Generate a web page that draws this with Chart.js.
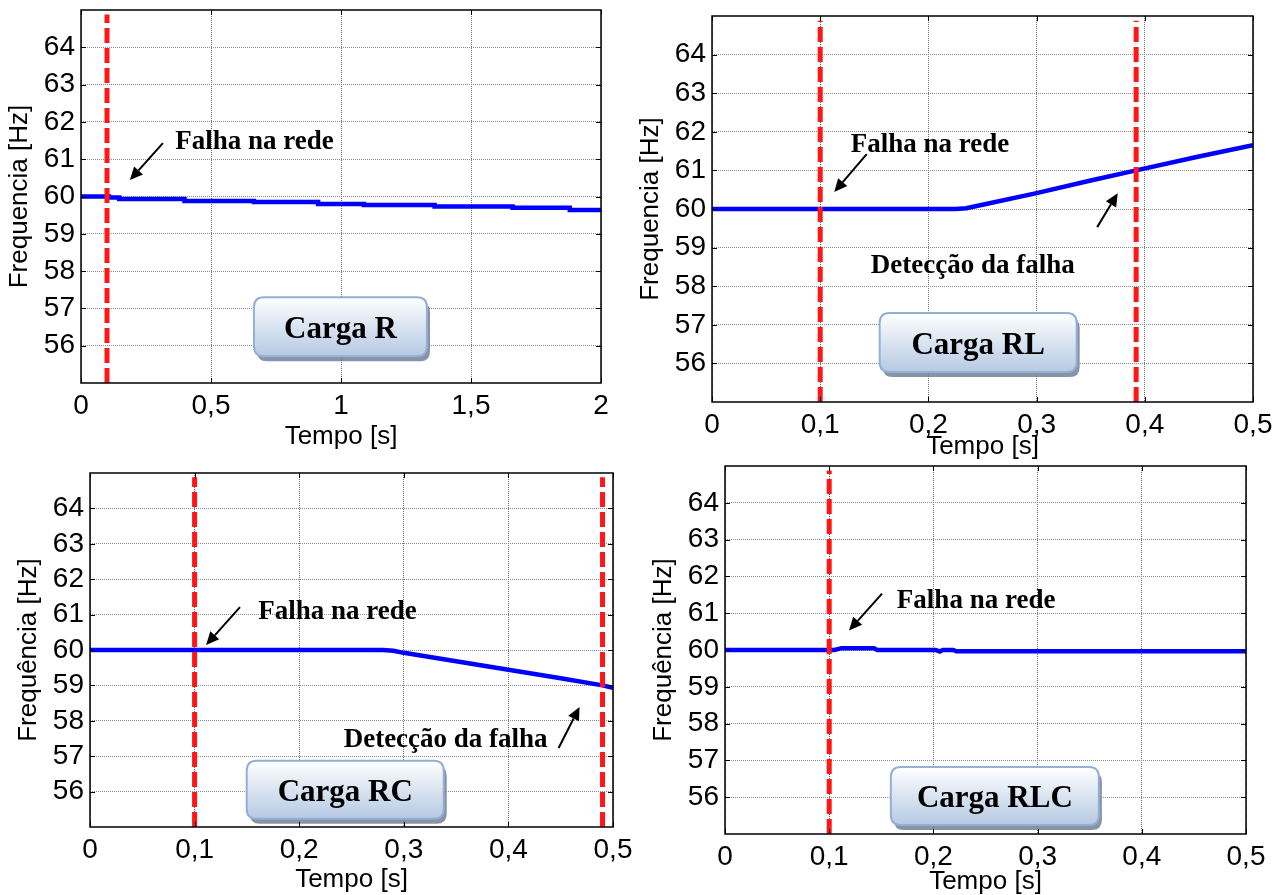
<!DOCTYPE html>
<html lang="pt">
<head>
<meta charset="UTF-8">
<title>Frequência - falha na rede</title>
<script src="https://cdn.jsdelivr.net/npm/chart.js"></script>
<style>
  html, body { margin: 0; padding: 0; background: #fff; }
  body { width: 1285px; height: 895px; position: relative; overflow: hidden; }
  canvas { position: absolute; }
</style>
</head>
<body>
<canvas id="cargaR"></canvas>
<canvas id="cargaRL"></canvas>
<canvas id="cargaRC"></canvas>
<canvas id="cargaRLC"></canvas>
<script>
// ── values ──
const yTicks = [56, 57, 58, 59, 60, 61, 62, 63, 64];
const xTicksLong = [0, 0.5, 1, 1.5, 2];
const xTicksShort = [0, 0.1, 0.2, 0.3, 0.4, 0.5];

const faultTime = 0.1;     // falha na rede
const detectRL = 0.392;    // detecção, carga RL
const detectRC = 0.49;     // detecção, carga RC
const dashSpan = [55, 64.88];

// Carga R (stepped decay)
const rTime = [0, 0.108, 0.147, 0.398, 0.665, 0.912, 1.088, 1.36, 1.66, 1.88, 2.0];
const rFreq = [60, 59.97, 59.93, 59.88, 59.85, 59.80, 59.77, 59.73, 59.70, 59.64, 59.64];

// Carga RL
const rlTime = [0, 0.1, 0.2, 0.225, 0.235, 0.25, 0.3, 0.35, 0.392, 0.45, 0.5];
const rlFreq = [60, 60, 60, 60, 60.02, 60.11, 60.41, 60.74, 61.0, 61.36, 61.65];

// Carga RC
const rcTime = [0, 0.1, 0.2, 0.28, 0.29, 0.3, 0.35, 0.4, 0.45, 0.49, 0.5];
const rcFreq = [60, 60, 60, 60, 59.98, 59.92, 59.68, 59.44, 59.2, 59.0, 58.93];

// Carga RLC
const rlcTime = [0, 0.105, 0.112, 0.143, 0.146, 0.202, 0.206, 0.209, 0.219, 0.222, 0.5];
const rlcFreq = [60, 60, 60.05, 60.05, 60.0, 60.0, 59.96, 60.0, 60.0, 59.965, 59.965];

// ── layout ──
const YW = 80, PT = 30, PR = 35, XH = 70;

function roundPath(ctx, x, y, w, h, r) {
  ctx.beginPath();
  ctx.moveTo(x + r, y);
  ctx.lineTo(x + w - r, y);
  ctx.quadraticCurveTo(x + w, y, x + w, y + r);
  ctx.lineTo(x + w, y + h - r);
  ctx.quadraticCurveTo(x + w, y + h, x + w - r, y + h);
  ctx.lineTo(x + r, y + h);
  ctx.quadraticCurveTo(x, y + h, x, y + h - r);
  ctx.lineTo(x, y + r);
  ctx.quadraticCurveTo(x, y, x + r, y);
  ctx.closePath();
}

function arrow(ctx, x1, y1, x2, y2) {
  const a = Math.atan2(y2 - y1, x2 - x1), len = 13, hw = 6;
  const bx = x2 - len * Math.cos(a), by = y2 - len * Math.sin(a);
  ctx.beginPath();
  ctx.moveTo(x1, y1);
  ctx.lineTo(bx, by);
  ctx.lineWidth = 2;
  ctx.strokeStyle = '#000';
  ctx.stroke();
  ctx.beginPath();
  ctx.moveTo(x2, y2);
  ctx.lineTo(bx + hw * Math.sin(a), by - hw * Math.cos(a));
  ctx.lineTo(bx - hw * Math.sin(a), by + hw * Math.cos(a));
  ctx.closePath();
  ctx.fillStyle = '#000';
  ctx.fill();
}

const notesPlugin = {
  id: 'notes',
  afterDatasetsDraw(chart, args, o) {
    const { ctx, scales: { x, y } } = chart;
    ctx.save();
    (o.arrows || []).forEach(a => arrow(ctx, x.getPixelForValue(a[0]), y.getPixelForValue(a[1]),
                                             x.getPixelForValue(a[2]), y.getPixelForValue(a[3])));
    ctx.fillStyle = '#000';
    ctx.font = "bold 27px 'Liberation Serif', 'Times New Roman', serif";
    ctx.textAlign = 'center';
    ctx.textBaseline = 'middle';
    (o.texts || []).forEach(t => ctx.fillText(t.text, x.getPixelForValue(t.x), y.getPixelForValue(t.y)));

    const b = o.box;
    if (b) {
      const cx = x.getPixelForValue(b.x), cy = y.getPixelForValue(b.y);
      const x0 = cx - b.w / 2, y0 = cy - b.h / 2;
      ctx.fillStyle = 'rgba(105,120,145,0.8)';
      roundPath(ctx, x0 + 3, y0 + 5, b.w, b.h, 10);
      ctx.fill();
      const g = ctx.createLinearGradient(0, y0, 0, y0 + b.h);
      g.addColorStop(0, '#ffffff');
      g.addColorStop(1, '#b5c9e3');
      ctx.fillStyle = g;
      roundPath(ctx, x0, y0, b.w, b.h, 10);
      ctx.fill();
      ctx.lineWidth = 2;
      ctx.strokeStyle = '#93b0d4';
      ctx.stroke();
      ctx.fillStyle = '#000';
      ctx.font = "bold 31px 'Liberation Serif', 'Times New Roman', serif";
      ctx.fillText(b.text, cx, cy + 3);
    }
    ctx.restore();
  }
};

const framePlugin = {
  id: 'frame',
  afterDraw(chart) {
    const { ctx, chartArea: a, scales: { x, y } } = chart;
    ctx.save();
    ctx.strokeStyle = '#000';
    ctx.lineWidth = 1.5;
    ctx.strokeRect(a.left, a.top, a.right - a.left, a.bottom - a.top);
    ctx.lineWidth = 1;
    ctx.beginPath();
    y.ticks.forEach(t => {
      const py = Math.round(y.getPixelForValue(t.value)) + 0.5;
      ctx.moveTo(a.left, py); ctx.lineTo(a.left + 5, py);
      ctx.moveTo(a.right, py); ctx.lineTo(a.right - 5, py);
    });
    x.ticks.forEach(t => {
      const px = Math.round(x.getPixelForValue(t.value)) + 0.5;
      ctx.moveTo(px, a.bottom); ctx.lineTo(px, a.bottom - 5);
      ctx.moveTo(px, a.top); ctx.lineTo(px, a.top + 5);
    });
    ctx.stroke();
    ctx.restore();
  }
};

function pts(xs, ys) { return xs.map((v, i) => ({ x: v, y: ys[i] })); }

function dashLine(t) {
  return {
    data: dashSpan.map(v => ({ x: t, y: v })),
    borderColor: '#ff1616',
    borderWidth: 5,
    borderDash: [15, 5],
    pointRadius: 0
  };
}

function makePanel(id, g, cfg) {
  const cv = document.getElementById(id);
  const w = (g.R - g.L) + YW + PR, h = (g.B - g.T) + PT + XH;
  cv.width = w; cv.height = h;
  cv.style.left = (g.L - YW) + 'px';
  cv.style.top = (g.T - PT) + 'px';
  cv.style.width = w + 'px';
  cv.style.height = h + 'px';

  const datasets = cfg.marks.map(dashLine);
  datasets.push({
    data: pts(cfg.time, cfg.freq),
    borderColor: '#0000ff',
    borderWidth: 4.5,
    pointRadius: 0,
    stepped: cfg.stepped || false
  });

  new Chart(cv, {
    type: 'line',
    data: { datasets },
    options: {
      responsive: false,
      animation: false,
      layout: { padding: { top: PT, right: PR, left: 0, bottom: 0 } },
      plugins: { legend: { display: false }, tooltip: { enabled: false }, notes: cfg.notes },
      scales: {
        x: {
          type: 'linear',
          min: 0,
          max: cfg.xTicks[cfg.xTicks.length - 1],
          afterBuildTicks: s => { s.ticks = cfg.xTicks.map(v => ({ value: v })); },
          afterFit: s => { s.height = XH; },
          grid: { color: '#6e6e6e', lineWidth: 1, drawTicks: false },
          border: { display: false, dash: [1, 1] },
          ticks: {
            padding: 6,
            color: '#000',
            maxRotation: 0,
            font: { family: "'Liberation Sans', Arial, sans-serif", size: 28 },
            callback: v => String(+v.toFixed(2)).replace('.', ',')
          },
          title: {
            display: true,
            text: 'Tempo [s]',
            color: '#000',
            padding: { top: 0, bottom: g.xtPad },
            font: { family: "'Liberation Sans', Arial, sans-serif", size: 26, lineHeight: 1 }
          }
        },
        y: {
          min: 55,
          max: 65,
          afterBuildTicks: s => { s.ticks = yTicks.map(v => ({ value: v })); },
          afterFit: s => { s.width = YW; },
          grid: { color: '#8c8c8c', lineWidth: 1, drawTicks: false },
          border: { display: false, dash: [1, 1] },
          ticks: {
            padding: 6,
            color: '#000',
            font: { family: "'Liberation Sans', Arial, sans-serif", size: 28 }
          },
          title: {
            display: true,
            text: cfg.yTitle,
            color: '#000',
            padding: { top: 6, bottom: 0 },
            font: { family: "'Liberation Sans', Arial, sans-serif", size: 26, lineHeight: 1 }
          }
        }
      }
    },
    plugins: [notesPlugin, framePlugin]
  });
}

makePanel('cargaR', { L: 81, T: 10, R: 601, B: 383, xtPad: 3 }, {
  time: rTime, freq: rFreq, stepped: 'before', marks: [faultTime], xTicks: xTicksLong,
  yTitle: 'Frequencia [Hz]',
  notes: {
    texts: [{ text: 'Falha na rede', x: 0.667, y: 61.46 }],
    arrows: [[0.315, 61.43, 0.188, 60.44]],
    box: { text: 'Carga R', x: 0.998, y: 56.51, w: 173, h: 59 }
  }
});

makePanel('cargaRL', { L: 712, T: 16, R: 1253, B: 402, xtPad: 12 }, {
  time: rlTime, freq: rlFreq, marks: [faultTime, detectRL], xTicks: xTicksShort,
  yTitle: 'Frequencia [Hz]',
  notes: {
    texts: [{ text: 'Falha na rede', x: 0.2015, y: 61.66 }, { text: 'Detecção da falha', x: 0.241, y: 58.52 }],
    arrows: [[0.143, 61.42, 0.113, 60.44], [0.356, 59.53, 0.375, 60.41]],
    box: { text: 'Carga RL', x: 0.246, y: 56.54, w: 197, h: 59 }
  }
});

makePanel('cargaRC', { L: 90, T: 473, R: 613, B: 827, xtPad: 4 }, {
  time: rcTime, freq: rcFreq, marks: [faultTime, detectRC], xTicks: xTicksShort,
  yTitle: 'Frequência [Hz]',
  notes: {
    texts: [{ text: 'Falha na rede', x: 0.2366, y: 61.07 }, { text: 'Detecção da falha', x: 0.34, y: 57.46 }],
    arrows: [[0.1434, 61.21, 0.111, 60.14], [0.448, 57.23, 0.468, 58.39]],
    box: { text: 'Carga RC', x: 0.244, y: 56.05, w: 197, h: 58 }
  }
});

makePanel('cargaRLC', { L: 725, T: 466, R: 1246, B: 834, xtPad: 9 }, {
  time: rlcTime, freq: rlcFreq, marks: [faultTime], xTicks: xTicksShort,
  yTitle: 'Frequência [Hz]',
  notes: {
    texts: [{ text: 'Falha na rede', x: 0.241, y: 61.34 }],
    arrows: [[0.1507, 61.53, 0.119, 60.53]],
    box: { text: 'Carga RLC', x: 0.259, y: 56.03, w: 208, h: 58 }
  }
});
</script>
</body>
</html>
